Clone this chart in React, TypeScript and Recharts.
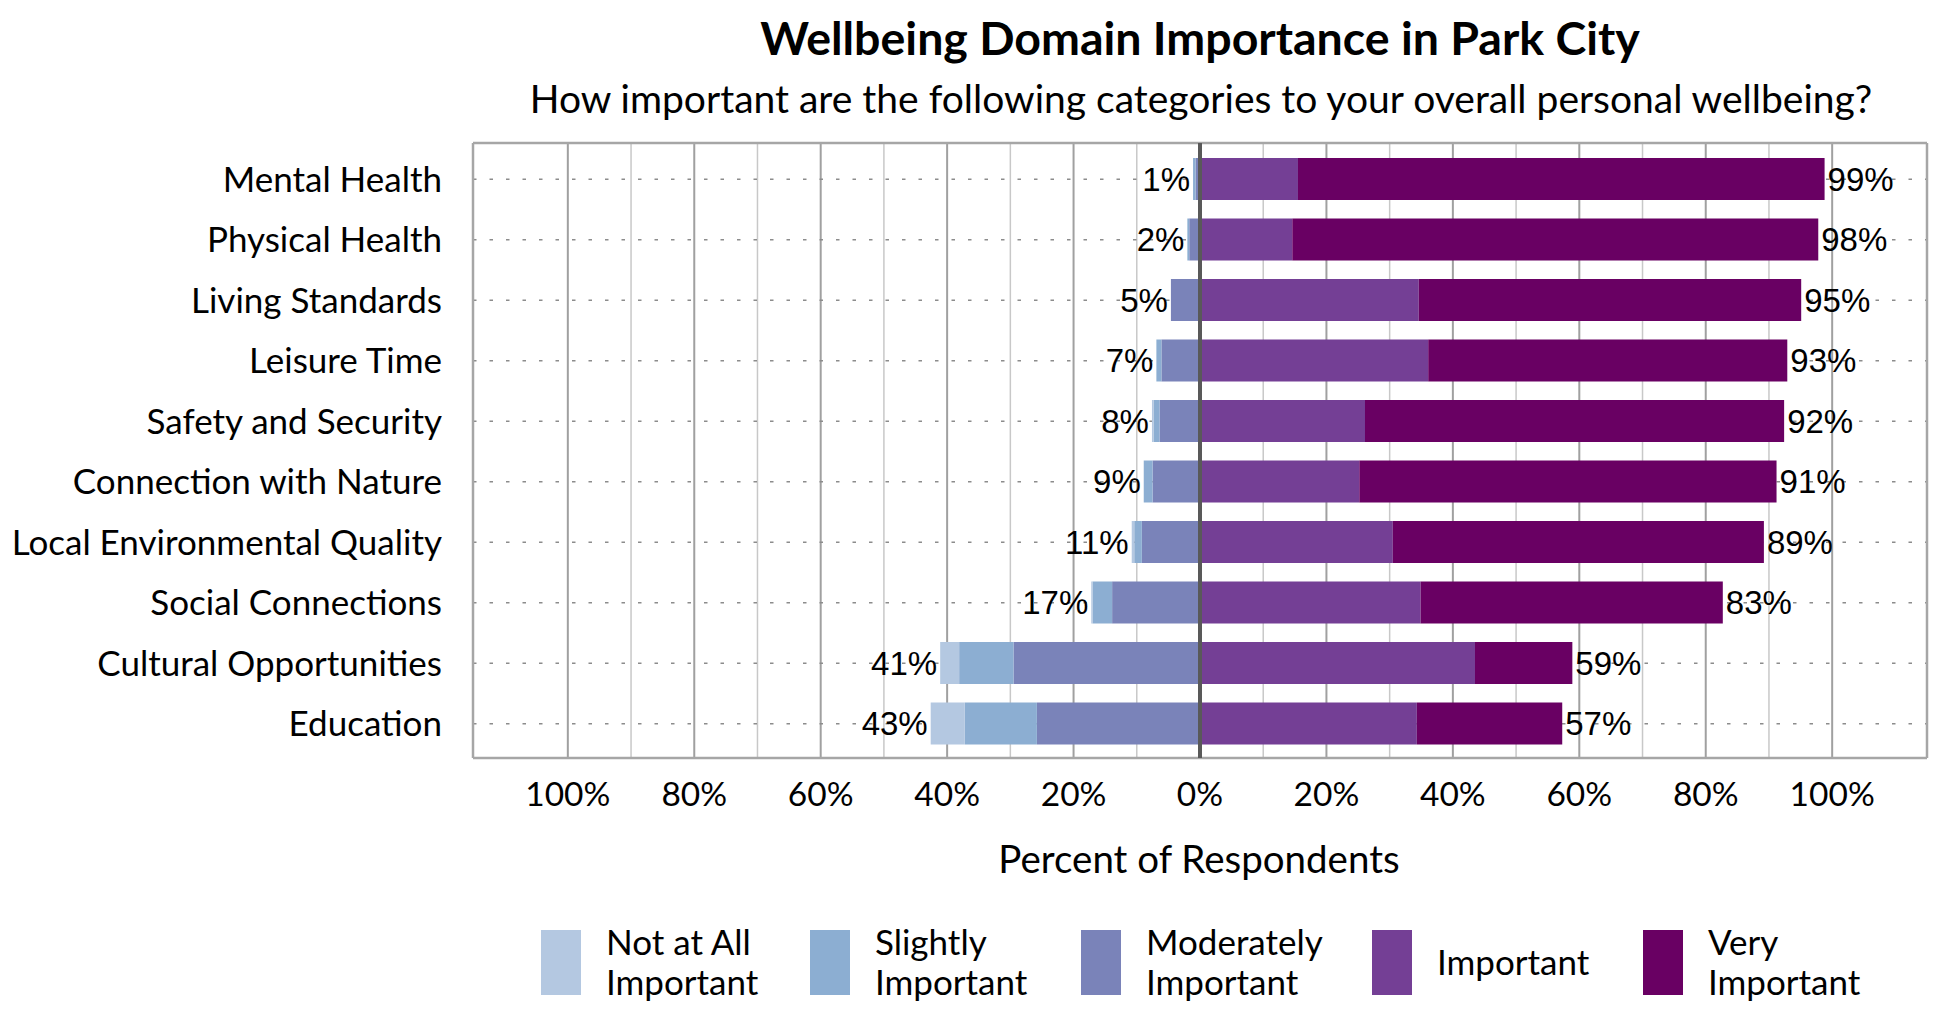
import React from "react"
import { Bar, BarChart, CartesianGrid, LabelList, ReferenceLine, XAxis, YAxis } from "recharts"

// survey answers, percent of respondents per domain
const categories = [
  "Mental Health",
  "Physical Health",
  "Living Standards",
  "Leisure Time",
  "Safety and Security",
  "Connection with Nature",
  "Local Environmental Quality",
  "Social Connections",
  "Cultural Opportunities",
  "Education",
]
const notAtAll = [0, 0, 0, 0, 0.3, 0, 0.4, 0.2, 3.0, 5.4]
const slightly = [0.4, 0.3, 0, 0.8, 0.9, 1.4, 1.2, 3.1, 8.6, 11.4]
const moderately = [0.7, 1.7, 4.6, 6.1, 6.4, 7.5, 9.2, 13.9, 29.5, 25.8]
const important = [15.5, 14.6, 34.6, 36.1, 26.1, 25.2, 30.5, 34.9, 43.5, 34.3]
const veryImportant = [83.3, 83.2, 60.5, 56.8, 66.3, 66.0, 58.7, 47.8, 15.4, 23.0]

const xTicks = [-100, -80, -60, -40, -20, 0, 20, 40, 60, 80, 100]
const majorGrid = [-100, -80, -60, -40, -20, 20, 40, 60, 80, 100]
const minorGrid = [-90, -70, -50, -30, -10, 10, 30, 50, 70, 90]

const seriesNames = [
  ["Not at All", "Important"],
  ["Slightly", "Important"],
  ["Moderately", "Important"],
  ["Important"],
  ["Very", "Important"],
]
const seriesColors = ["#b4c8e1", "#8caed2", "#7a83b9", "#743f95", "#690063"]

const FONT = "Lato, 'Open Sans', sans-serif"
const LABEL_FONT = "'Liberation Sans', Arial, sans-serif"

// left side is stored negative so the stack diverges from 0
const data = categories.map((name, i) => ({
  name,
  notAtAll: -notAtAll[i],
  slightly: -slightly[i],
  moderately: -moderately[i],
  important: important[i],
  veryImportant: veryImportant[i],
}))

type Row = (typeof data)[number]

const negText = (r: Row) => `${Math.round(-(r.notAtAll + r.slightly + r.moderately))}%`
const posText = (r: Row) => `${Math.round(r.important + r.veryImportant)}%`

const NegLabel = (props: any) => {
  const vb = props.viewBox ?? props
  if (props.value == null) return null
  const left = Math.min(vb.x, vb.x + vb.width)
  return (
    <text x={left - 3} y={vb.y + vb.height / 2} dy="0.36em" textAnchor="end" fontSize={33} fontFamily={LABEL_FONT} fill="#000">
      {props.value}
    </text>
  )
}

const PosLabel = (props: any) => {
  const vb = props.viewBox ?? props
  if (props.value == null) return null
  const right = Math.max(vb.x, vb.x + vb.width)
  return (
    <text x={right + 3} y={vb.y + vb.height / 2} dy="0.36em" textAnchor="start" fontSize={33} fontFamily={LABEL_FONT} fill="#000">
      {props.value}
    </text>
  )
}

// legend layout (x of each swatch)
const legendX = [541, 810, 1081, 1372, 1643]

export default function App() {
  return (
    <div style={{ position: "relative", width: 1950, height: 1020, background: "#fff", overflow: "hidden" }}>
      <style>{"body{margin:0}"}</style>
      <BarChart
        width={1950}
        height={1020}
        data={data}
        layout="vertical"
        stackOffset="sign"
        barSize={42}
        margin={{ top: 143, right: 23, bottom: 149, left: 0 }}
      >
        <CartesianGrid horizontal={false} verticalValues={minorGrid} stroke="#c8c8c8" strokeWidth={1.5} />
        <CartesianGrid horizontal={false} verticalValues={majorGrid} stroke="#a0a0a0" strokeWidth={2} />
        <CartesianGrid vertical={false} stroke="#8c8c8c" strokeWidth={1.5} strokeDasharray="3.5 13" />
        <CartesianGrid
          stroke="#a6a6a6"
          strokeWidth={2.5}
          verticalCoordinatesGenerator={({ offset }: any) => [offset.left, offset.left + offset.width]}
          horizontalCoordinatesGenerator={({ offset }: any) => [offset.top, offset.top + offset.height]}
        />
        <XAxis
          type="number"
          domain={[-115, 115]}
          ticks={xTicks}
          allowDataOverflow
          tickFormatter={(v) => `${Math.abs(v)}%`}
          axisLine={false}
          tickLine={false}
          tickSize={0}
          tickMargin={24}
          height={113}
          tick={{ fontSize: 33.5, fontFamily: FONT, fill: "#000" }}
        />
        <YAxis
          type="category"
          dataKey="name"
          width={473}
          axisLine={false}
          tickLine={false}
          tickSize={0}
          tickMargin={31}
          padding={{ top: 6, bottom: 4 }}
          tick={{ fontSize: 35, fontFamily: FONT, fill: "#000" }}
        />
        <Bar dataKey="moderately" stackId="a" fill={seriesColors[2]} isAnimationActive={false}>
          <LabelList dataKey={(r: Row) => (r.notAtAll === 0 && r.slightly === 0 ? negText(r) : null)} content={NegLabel} />
        </Bar>
        <Bar dataKey="slightly" stackId="a" fill={seriesColors[1]} isAnimationActive={false}>
          <LabelList dataKey={(r: Row) => (r.notAtAll === 0 && r.slightly < 0 ? negText(r) : null)} content={NegLabel} />
        </Bar>
        <Bar dataKey="notAtAll" stackId="a" fill={seriesColors[0]} isAnimationActive={false}>
          <LabelList dataKey={(r: Row) => (r.notAtAll < 0 ? negText(r) : null)} content={NegLabel} />
        </Bar>
        <Bar dataKey="important" stackId="a" fill={seriesColors[3]} isAnimationActive={false} />
        <Bar dataKey="veryImportant" stackId="a" fill={seriesColors[4]} isAnimationActive={false}>
          <LabelList dataKey={(r: Row) => posText(r)} content={PosLabel} />
        </Bar>
        <ReferenceLine x={0} stroke="#595959" strokeWidth={4} />
      </BarChart>

      <svg width={1950} height={1020} style={{ position: "absolute", left: 0, top: 0, pointerEvents: "none" }}>
        <text x={1200} y={55} textAnchor="middle" fontSize={46.5} fontWeight={700} fontFamily={FONT} fill="#000">
          Wellbeing Domain Importance in Park City
        </text>
        <text x={1201} y={113} textAnchor="middle" fontSize={39} fontFamily={FONT} fill="#000">
          How important are the following categories to your overall personal wellbeing?
        </text>
        <text x={1199} y={873} textAnchor="middle" fontSize={38.5} fontFamily={FONT} fill="#000">
          Percent of Respondents
        </text>
        {seriesNames.map((lines, i) => (
          <g key={i}>
            <rect x={legendX[i]} y={930} width={40} height={65} fill={seriesColors[i]} />
            {lines.length === 1 ? (
              <text x={legendX[i] + 65} y={975} fontSize={35} fontFamily={FONT} fill="#000">
                {lines[0]}
              </text>
            ) : (
              lines.map((t, j) => (
                <text key={j} x={legendX[i] + 65} y={955 + j * 40} fontSize={35} fontFamily={FONT} fill="#000">
                  {t}
                </text>
              ))
            )}
          </g>
        ))}
      </svg>
    </div>
  )
}
